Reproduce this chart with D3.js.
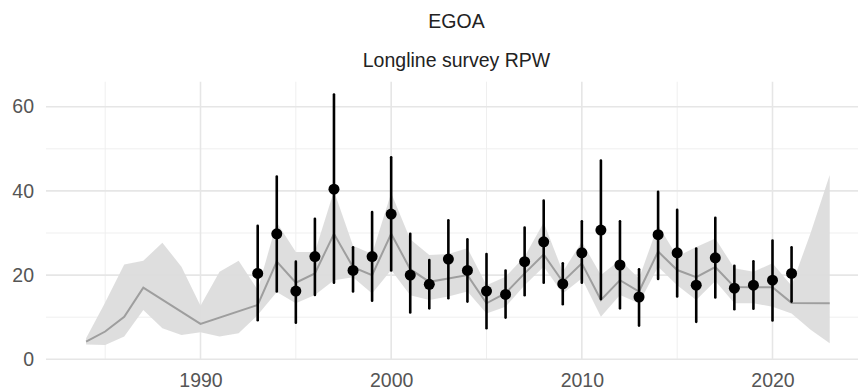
<!DOCTYPE html>
<html>
<head>
<meta charset="utf-8">
<script src="https://cdn.jsdelivr.net/npm/d3@7"></script>
<style>
  html, body { margin: 0; padding: 0; background: #fff; }
  svg { display: block; font-family: "Liberation Sans", Arial, sans-serif; }
</style>
</head>
<body>
<svg id="chart" width="858" height="390"></svg>
<script>
// ---- data ----
const obsYears = d3.range(1993, 2022);
const obsValues = [20.4, 29.8, 16.2, 24.4, 40.4, 21.1, 24.4, 34.5, 20.0, 17.8, 23.8, 21.1, 16.2, 15.4, 23.2, 27.9, 17.9, 25.3, 30.7, 22.4, 14.8, 29.6, 25.3, 17.6, 24.1, 16.9, 17.6, 18.8, 20.4];
const obsUpper = [31.7, 43.4, 23.2, 33.4, 62.9, 26.6, 35.0, 48.0, 29.8, 23.6, 33.0, 28.5, 25.0, 21.1, 31.3, 37.7, 22.8, 32.8, 47.2, 32.8, 21.4, 39.8, 35.5, 26.3, 33.6, 22.2, 23.3, 28.2, 26.6];
const obsLower = [9.3, 16.1, 8.7, 15.3, 18.2, 16.1, 13.9, 21.1, 11.1, 12.1, 14.5, 13.7, 7.4, 9.9, 15.2, 18.2, 13.1, 18.2, 14.3, 12.1, 8.0, 19.1, 14.9, 8.9, 14.7, 11.9, 12.0, 9.2, 13.7];

const fitYears = [1984, 1985, 1986, 1987, 1990].concat(d3.range(1993, 2022)).concat([2023]);
const fitValues = [4.2, 6.6, 10.1, 17.0, 8.4,
  12.9, 23.2, 18.2, 20.4, 29.8, 21.9, 20.0, 29.8, 21.4, 18.4, 19.2, 20.0, 13.3, 15.7, 20.4, 24.9,
  18.4, 22.8, 14.1, 18.8, 16.1, 25.6, 21.2, 19.5, 21.9, 17.2, 17.1, 17.1, 13.4,
  13.3];

const ribbonYears = d3.range(1984, 2024);
const ribbonUpper = [5.0, 13.5, 22.5, 23.4, 27.7, 22.0, 12.7, 20.8, 23.4, 16.5,
  32.5, 25.5, 25.5, 40.0, 27.0, 25.0, 39.5, 28.5, 24.8, 25.0,
  26.4, 17.6, 19.6, 24.4, 32.5, 20.8, 27.9, 20.0, 23.6, 19.2,
  31.9, 24.4, 26.7, 28.7, 21.6, 20.8, 22.8, 17.5, 30.0, 43.8];
const ribbonLower = [3.5, 3.4, 5.4, 11.7, 7.4, 5.8, 6.4, 5.4, 6.2, 10.5,
  16.0, 13.3, 15.3, 18.8, 19.5, 15.6, 21.2, 15.2, 14.1, 14.9,
  16.1, 10.9, 12.5, 17.6, 22.0, 15.6, 19.2, 10.1, 15.3, 13.3,
  22.0, 17.6, 14.1, 18.6, 13.3, 13.3, 12.5, 10.9, 7.0, 3.8];

const xMajorTicks = [1990, 2000, 2010, 2020];
const xMinorTicks = [1985, 1995, 2005, 2015];
const yMajorTicks = [0, 20, 40, 60];
const yMinorTicks = [10, 30, 50];

const titleText = "EGOA";
const subtitleText = "Longline survey RPW";

// ---- layout ----
const svg = d3.select("#chart");
const panel = { left: 46, right: 867, top: 81.7, bottom: 359.3 };

const x = d3.scaleLinear().domain([1990, 2020]).range([200.5, 772.5]);
const y = d3.scaleLinear().domain([0, 60]).range([359.3, 106.7]);

// gridlines
const grid = svg.append("g");
grid.selectAll(".hmin").data(yMinorTicks).join("line")
  .attr("x1", panel.left).attr("x2", panel.right)
  .attr("y1", d => y(d)).attr("y2", d => y(d))
  .attr("stroke", "#efefef").attr("stroke-width", 1);
grid.selectAll(".vmin").data(xMinorTicks).join("line")
  .attr("y1", panel.top).attr("y2", panel.bottom)
  .attr("x1", d => x(d)).attr("x2", d => x(d))
  .attr("stroke", "#efefef").attr("stroke-width", 1);
grid.selectAll(".hmaj").data(yMajorTicks).join("line")
  .attr("x1", panel.left).attr("x2", panel.right)
  .attr("y1", d => y(d)).attr("y2", d => y(d))
  .attr("stroke", "#e6e6e6").attr("stroke-width", 1.6);
grid.selectAll(".vmaj").data(xMajorTicks).join("line")
  .attr("y1", panel.top).attr("y2", panel.bottom)
  .attr("x1", d => x(d)).attr("x2", d => x(d))
  .attr("stroke", "#e6e6e6").attr("stroke-width", 1.6);

// ribbon
const ribbonData = ribbonYears.map((yr, i) => ({ yr, lo: ribbonLower[i], hi: ribbonUpper[i] }));
svg.append("path").datum(ribbonData)
  .attr("fill", "#dcdcdc").attr("fill-opacity", 0.95)
  .attr("d", d3.area().x(d => x(d.yr)).y0(d => y(d.lo)).y1(d => y(d.hi)));

// fit line
const fitData = fitYears.map((yr, i) => ({ yr, v: fitValues[i] }));
svg.append("path").datum(fitData)
  .attr("fill", "none").attr("stroke", "#9e9e9e").attr("stroke-width", 2)
  .attr("d", d3.line().x(d => x(d.yr)).y(d => y(d.v)));

// error bars + points
const obsData = obsYears.map((yr, i) => ({ yr, v: obsValues[i], lo: obsLower[i], hi: obsUpper[i] }));
svg.append("g").selectAll("line").data(obsData).join("line")
  .attr("x1", d => x(d.yr)).attr("x2", d => x(d.yr))
  .attr("y1", d => y(d.lo)).attr("y2", d => y(d.hi))
  .attr("stroke", "#000").attr("stroke-width", 2.6).attr("stroke-linecap", "round");
svg.append("g").selectAll("circle").data(obsData).join("circle")
  .attr("cx", d => x(d.yr)).attr("cy", d => y(d.v)).attr("r", 5.5)
  .attr("fill", "#000");

// axes
const yAxis = svg.append("g").attr("transform", `translate(${panel.left - 12},0)`)
  .call(d3.axisLeft(y).tickValues(yMajorTicks).tickSize(0).tickPadding(0));
yAxis.select(".domain").remove();
yAxis.selectAll("text").attr("font-size", 19.5).attr("fill", "#555")
  .attr("font-family", "Liberation Sans, Arial, sans-serif");

const xAxis = svg.append("g").attr("transform", `translate(0,${panel.bottom + 14})`)
  .call(d3.axisBottom(x).tickValues(xMajorTicks).tickFormat(d3.format("d")).tickSize(0).tickPadding(0));
xAxis.select(".domain").remove();
xAxis.selectAll("text").attr("font-size", 19.5).attr("fill", "#555")
  .attr("font-family", "Liberation Sans, Arial, sans-serif");

// titles
const cx = (panel.left + panel.right) / 2;
svg.append("text").attr("x", cx).attr("y", 28.3).attr("text-anchor", "middle")
  .attr("font-size", 19.5).attr("fill", "#222").text(titleText);
svg.append("text").attr("x", cx).attr("y", 66.7).attr("text-anchor", "middle")
  .attr("font-size", 19.5).attr("fill", "#222").text(subtitleText);
</script>
</body>
</html>
